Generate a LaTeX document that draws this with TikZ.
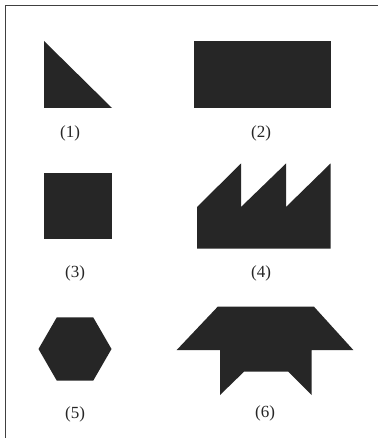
\documentclass[tikz,border=0pt]{standalone}
\usepackage{fontspec}
\setmainfont{Liberation Serif}
\begin{document}
\begin{tikzpicture}[x=1pt,y=-1pt,
  shapefill/.style={fill=black!85, draw=none},
  lbl/.style={font=\fontsize{17}{20}\selectfont, text=black!85, inner sep=0pt},
  frameline/.style={draw=black!75, line width=1.2pt}]
\useasboundingbox (0,0) rectangle (378,438);
\fill[white] (0,0) rectangle (378,438);
% frame
\draw[frameline] (5.5,438) -- (5.5,5.5) -- (378,5.5);
% (1) triangle
\fill[shapefill] (44,41) -- (44,108) -- (112,108) -- cycle;
\node[lbl] (l1) at (70,133) {(1)};
% (2) rectangle
\fill[shapefill] (194,41) rectangle (331,108);
\node[lbl] (l2) at (261,133) {(2)};
% (3) square
\fill[shapefill] (44,173) rectangle (112,239);
\node[lbl] (l3) at (75,273) {(3)};
% (4) factory
\fill[shapefill] (197,248.5) -- (197,207) -- (241,163.5) -- (241,207) -- (286,163.5) -- (286,207) -- (330.5,163.5) -- (330.5,248.5) -- cycle;
\node[lbl] (l4) at (261,273) {(4)};
% (5) hexagon
\fill[shapefill] (75,349) ++(0:36.5) -- ++(120:36.5) -- ++(180:36.5) -- ++(240:36.5) -- ++(300:36.5) -- ++(0:36.5) -- cycle;
\node[lbl] (l5) at (75,414) {(5)};
% (6)
\fill[shapefill] (217.7,306.7) -- (314,306.7) -- (353.3,350) -- (311.5,350) -- (311.5,395) -- (288.3,371.7) -- (244,371.7) -- (220,395) -- (220,350) -- (176.7,350) -- cycle;
\node[lbl] (l6) at (265,413) {(6)};
\end{tikzpicture}
\end{document}
